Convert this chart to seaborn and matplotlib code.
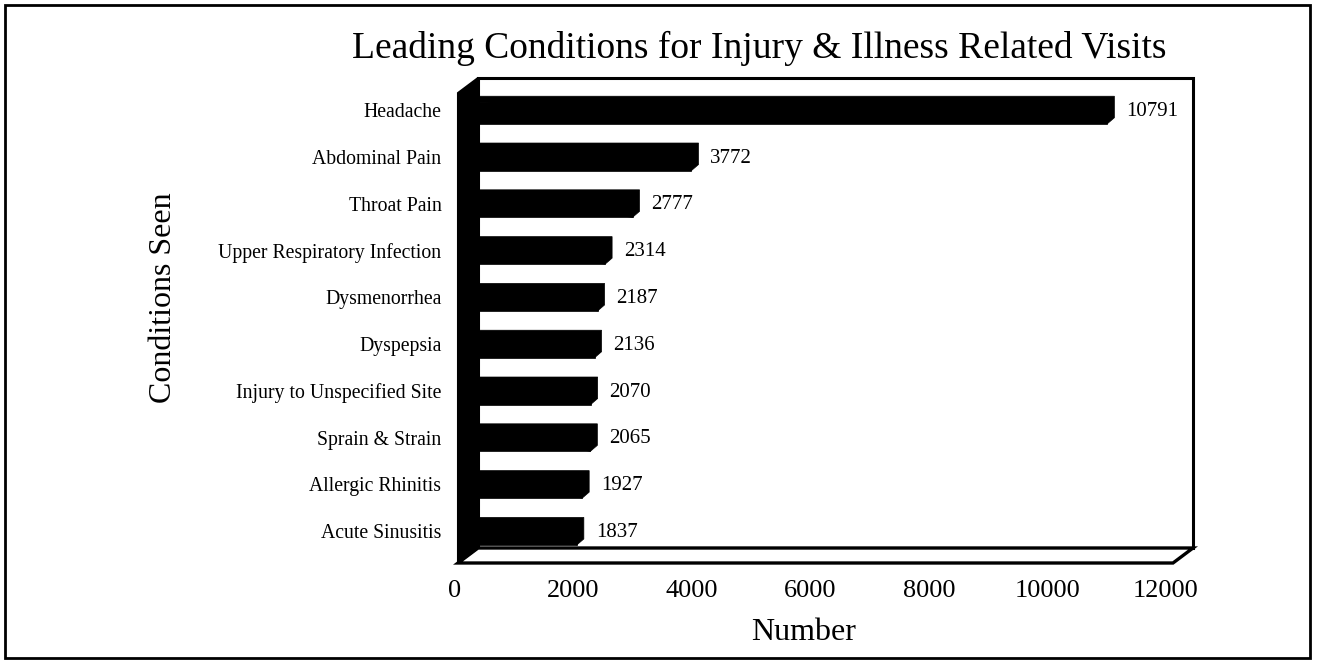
import matplotlib
matplotlib.use("Agg")
import matplotlib.pyplot as plt
from matplotlib.patches import Polygon, Rectangle
import matplotlib.transforms as mtrans
import seaborn as sns
import pandas as pd

conditions = ["Headache", "Abdominal Pain", "Throat Pain", "Upper Respiratory Infection",
              "Dysmenorrhea", "Dyspepsia", "Injury to Unspecified Site", "Sprain & Strain",
              "Allergic Rhinitis", "Acute Sinusitis"]
counts = [10791, 3772, 2777, 2314, 2187, 2136, 2070, 2065, 1927, 1837]
xticks = [0, 2000, 4000, 6000, 8000, 10000, 12000]

title = "Leading Conditions for Injury & Illness Related Visits"
xlabel = "Number"
ylabel = "Conditions Seen"

df = pd.DataFrame({"condition": conditions, "count": counts})

sns.set_theme(style="white")
plt.rcParams["font.family"] = ["Liberation Serif", "DejaVu Serif"]
plt.rcParams["text.color"] = "black"
plt.rcParams["axes.labelcolor"] = "black"
plt.rcParams["xtick.color"] = "black"
plt.rcParams["ytick.color"] = "black"

W, H = 1317, 664
fig = plt.figure(figsize=(W / 100, H / 100), dpi=100)
fig.patch.set_facecolor("white")

def F(x, y):
    return (x / W, 1 - y / H)

# axes (scale plane for ticks)
L, R, T, B = 455, 1166, 93, 563
ax = fig.add_axes([L / W, 1 - B / H, (R - L) / W, (B - T) / H])
ax.set_facecolor("none")

# 3D box geometry (pixels)
FL, FR, FT, FB = 458, 1173, 93, 563
DX, DY = 20, 15
back = Polygon([F(FL + DX, FT - DY), F(FR + DX, FT - DY), F(FR + DX, FB - DY), F(FL + DX, FB - DY)],
               closed=True, transform=fig.transFigure, facecolor="white",
               edgecolor="black", lw=2.2)
fig.add_artist(back)
back.set_zorder(-1)
floor = Polygon([F(FL, FB), F(FL + DX, FB - DY), F(FR + DX, FB - DY), F(FR, FB)], closed=True,
                transform=fig.transFigure, facecolor="white", edgecolor="black", lw=2.4)
fig.add_artist(floor)
floor.set_zorder(-1)

sns.barplot(data=df, x="count", y="condition", color="black", saturation=1,
            width=0.46, orient="h", ax=ax, zorder=3, edgecolor="black", linewidth=0.5)

ax.set_xlim(0, 12000)
ax.set_ylim(9.68, -0.363)

# bars sit at mid depth: shift right / down a bit
shift = mtrans.ScaledTranslation(13 / 100, -3 / 100, fig.dpi_scale_trans)
for p in ax.patches:
    p.set_transform(ax.transData + shift)

fig.canvas.draw()
# small 3D depth on each bar's end
bdx, bdy = 7, 6
for p in list(ax.patches):
    x0, y0 = p.get_x(), p.get_y()
    w, h = p.get_width(), p.get_height()
    (px0, pyb), (px1, pyt) = (ax.transData + shift).transform([(x0, y0 + h), (x0 + w, y0)])
    poly = Polygon([(px1, pyb), (px1 + bdx, pyb + bdy), (px1 + bdx, pyt + bdy),
                    (px0 + bdx, pyt + bdy), (px0, pyt)], closed=True, transform=None,
                   facecolor="black", edgecolor="black", lw=0.5, zorder=3)
    ax.add_artist(poly)

leftwall = Polygon([F(FL, FT), F(FL + DX, FT - DY), F(FL + DX, FB - DY), F(FL, FB)], closed=True,
                   transform=fig.transFigure, facecolor="black", edgecolor="black", lw=1.5,
                   zorder=5)
ax.add_artist(leftwall)
leftwall.set_clip_on(False)

for p, v in zip(ax.patches, counts):
    ax.annotate(str(v), (p.get_x() + p.get_width(), p.get_y() + p.get_height() / 2),
                xytext=(23, -1), textcoords="offset points", ha="left", va="center",
                fontsize=15, color="black")

for s in ax.spines.values():
    s.set_visible(False)
ax.set_xticks(xticks)
ax.set_xticklabels([str(t) for t in xticks], fontsize=18.9)
ax.tick_params(axis="x", length=0, pad=12, labelcolor="black")
ax.tick_params(axis="y", length=0, pad=9.8, labelsize=14.2, labelcolor="black")

ax.set_xlabel(xlabel, fontsize=23, color="black")
ax.xaxis.set_label_coords((804 - L) / (R - L), -0.117)
ax.set_ylabel(ylabel, fontsize=23, color="black")
ax.yaxis.set_label_coords(-0.389, 0.565)

fig.text(759 / W, 1 - 58 / H, title, ha="center", va="baseline", fontsize=27, color="black")

border = Rectangle(F(5, 658), 1305 / W, 653 / H, transform=fig.transFigure,
                   facecolor="none", edgecolor="black", lw=2)
fig.add_artist(border)

fig.savefig("out.png", dpi=100)
